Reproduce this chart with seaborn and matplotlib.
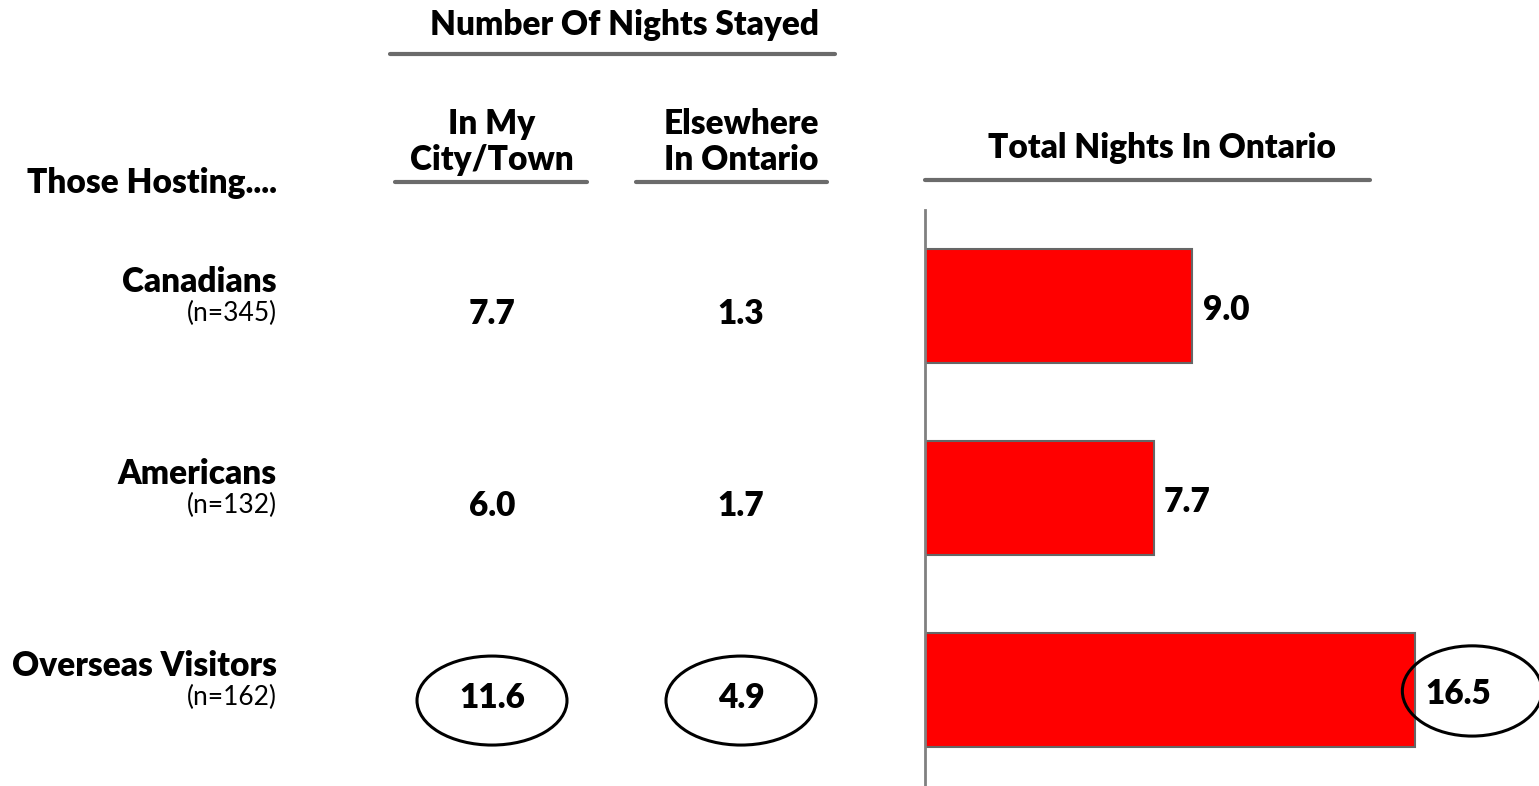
import matplotlib
matplotlib.use("Agg")
import matplotlib.pyplot as plt
import matplotlib.transforms as mtransforms
from matplotlib.lines import Line2D
from matplotlib.patches import Ellipse
import seaborn as sns

# data
groups = ["Canadians", "Americans", "Overseas Visitors"]
sample_sizes = [345, 132, 162]
in_my_city = [7.7, 6.0, 11.6]
elsewhere_ontario = [1.3, 1.7, 4.9]
total_nights = [9.0, 7.7, 16.5]
highlight = "Overseas Visitors"

sns.set_style("white")
plt.rcParams["font.family"] = ["Lato", "DejaVu Sans"]
plt.rcParams["text.color"] = "black"

W, H = 1539, 786


def fx(px):
    return px / W


def fy(py):
    return 1 - py / H


fig = plt.figure(figsize=(W / 100, H / 100), dpi=100)
ax = fig.add_axes([fx(925), 0, fx(W - 925), 1 - 210 / H])

sns.barplot(x=total_nights, y=groups, orient="h", color="#FF0000",
            saturation=1, edgecolor="#666666", linewidth=1.5, width=0.59,
            ax=ax)
ax.set_ylim(2.5, -0.5)
ax.set_xlim(0, 20.67)
ax.set_xticks([])
ax.set_yticks([])
ax.set_xlabel("")
ax.set_ylabel("")
for side in ["top", "right", "bottom"]:
    ax.spines[side].set_visible(False)
ax.spines["left"].set_color("#808080")
ax.spines["left"].set_linewidth(2)

big = 24
small = 19
wt = "heavy"

# bar value labels
for i, v in enumerate(total_nights):
    ax.text(v + 0.35, i + 0.02, f"{v:.1f}", ha="left", va="center",
            fontsize=big, fontweight=wt)
    if groups[i] == highlight:
        ax.add_patch(Ellipse((v + 1.92, i + 0.005), 4.7, 0.47, fill=False,
                             edgecolor="black", linewidth=2.2, clip_on=False))

# row labels and table columns (x in figure fraction, y in bar rows)
trans = mtransforms.blended_transform_factory(fig.transFigure, ax.transData)
for i, (name, n) in enumerate(zip(groups, sample_sizes)):
    ax.text(fx(277), i - 0.125, name, transform=trans, ha="right",
            va="center", fontsize=big, fontweight=wt)
    ax.text(fx(277), i + 0.04, f"(n={n})", transform=trans, ha="right",
            va="center", fontsize=small)
    for col_x, vals in [(492, in_my_city), (741, elsewhere_ontario)]:
        ax.text(fx(col_x), i + 0.04, f"{vals[i]:.1f}", transform=trans,
                ha="center", va="center", fontsize=big, fontweight=wt)
        if name == highlight:
            ax.add_patch(Ellipse((fx(col_x), i + 0.055), fx(150), 89 / 192,
                                 transform=trans, fill=False,
                                 edgecolor="black", linewidth=2.2,
                                 clip_on=False))

# headers
line_kw = dict(color="#6b6b6b", linewidth=3, transform=fig.transFigure)
fig.text(fx(625), fy(25), "Number Of Nights Stayed", ha="center",
         va="center", fontsize=big, fontweight=wt)
fig.add_artist(Line2D([fx(390), fx(835)], [fy(54), fy(54)], **line_kw))

fig.text(fx(492), fy(142), "In My\nCity/Town", ha="center", va="center",
         fontsize=big, fontweight=wt, linespacing=1.14)
fig.add_artist(Line2D([fx(395), fx(587)], [fy(182), fy(182)], **line_kw))

fig.text(fx(741), fy(142), "Elsewhere\nIn Ontario", ha="center",
         va="center", fontsize=big, fontweight=wt, linespacing=1.14)
fig.add_artist(Line2D([fx(636), fx(827)], [fy(182), fy(182)], **line_kw))

fig.text(fx(1162), fy(148), "Total Nights In Ontario", ha="center",
         va="center", fontsize=big, fontweight=wt)
fig.add_artist(Line2D([fx(925), fx(1370)], [fy(180), fy(180)], **line_kw))

fig.text(fx(277), fy(183), "Those Hosting....", ha="right", va="center",
         fontsize=big, fontweight=wt)

fig.savefig("out.png", dpi=100, facecolor="white")
